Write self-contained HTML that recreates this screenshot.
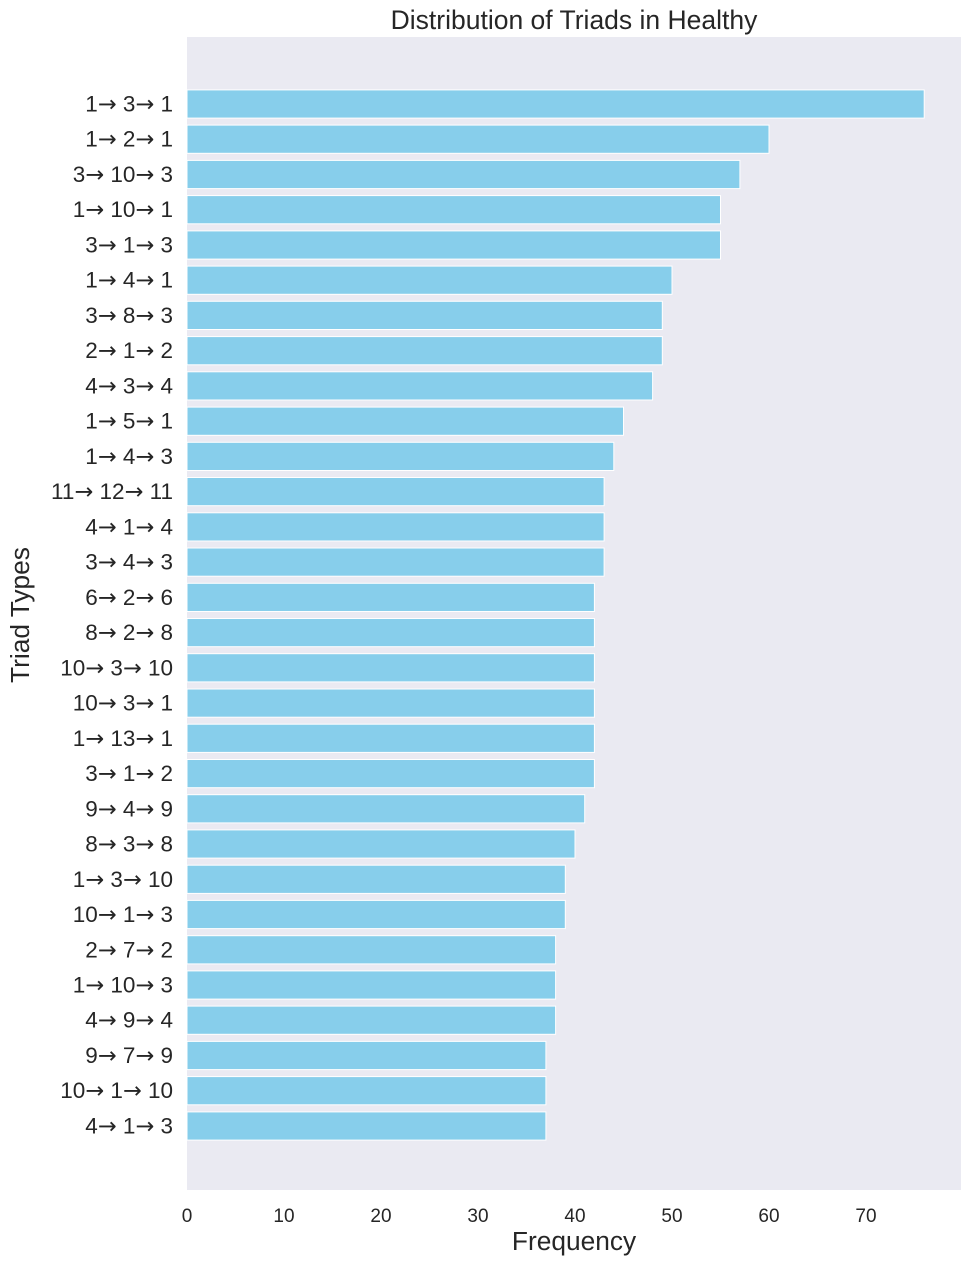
<!DOCTYPE html>
<html><head><meta charset="utf-8"><style>body{margin:0;background:#fff}svg{display:block}text{font-family:"Liberation Sans",sans-serif;fill:#262626}tspan.a{font-family:"DejaVu Sans",sans-serif}</style></head>
<body>
<svg width="971" height="1265" xmlns="http://www.w3.org/2000/svg">
<rect x="187" y="37" width="774" height="1153" fill="#eaeaf2"/>
<text x="574" y="29" font-size="26.5" text-anchor="middle">Distribution of Triads in Healthy</text>
<g fill="#87ceeb" stroke="#fff" stroke-width="1">
<rect x="187" y="89.9" width="737.2" height="28.2"/>
<rect x="187" y="125.1" width="582" height="28.2"/>
<rect x="187" y="160.4" width="552.9" height="28.2"/>
<rect x="187" y="195.6" width="533.5" height="28.2"/>
<rect x="187" y="230.9" width="533.5" height="28.2"/>
<rect x="187" y="266.1" width="485" height="28.2"/>
<rect x="187" y="301.3" width="475.3" height="28.2"/>
<rect x="187" y="336.6" width="475.3" height="28.2"/>
<rect x="187" y="371.8" width="465.6" height="28.2"/>
<rect x="187" y="407.1" width="436.5" height="28.2"/>
<rect x="187" y="442.3" width="426.8" height="28.2"/>
<rect x="187" y="477.5" width="417.1" height="28.2"/>
<rect x="187" y="512.8" width="417.1" height="28.2"/>
<rect x="187" y="548" width="417.1" height="28.2"/>
<rect x="187" y="583.3" width="407.4" height="28.2"/>
<rect x="187" y="618.5" width="407.4" height="28.2"/>
<rect x="187" y="653.7" width="407.4" height="28.2"/>
<rect x="187" y="689" width="407.4" height="28.2"/>
<rect x="187" y="724.2" width="407.4" height="28.2"/>
<rect x="187" y="759.5" width="407.4" height="28.2"/>
<rect x="187" y="794.7" width="397.7" height="28.2"/>
<rect x="187" y="829.9" width="388" height="28.2"/>
<rect x="187" y="865.2" width="378.3" height="28.2"/>
<rect x="187" y="900.4" width="378.3" height="28.2"/>
<rect x="187" y="935.7" width="368.6" height="28.2"/>
<rect x="187" y="970.9" width="368.6" height="28.2"/>
<rect x="187" y="1006.1" width="368.6" height="28.2"/>
<rect x="187" y="1041.4" width="358.9" height="28.2"/>
<rect x="187" y="1076.6" width="358.9" height="28.2"/>
<rect x="187" y="1111.9" width="358.9" height="28.2"/>
</g>
<g font-size="22.5" text-anchor="end">
<text x="173" y="111.5">1<tspan class="a">→</tspan> 3<tspan class="a">→</tspan> 1</text>
<text x="173" y="146.7">1<tspan class="a">→</tspan> 2<tspan class="a">→</tspan> 1</text>
<text x="173" y="182">3<tspan class="a">→</tspan> 10<tspan class="a">→</tspan> 3</text>
<text x="173" y="217.2">1<tspan class="a">→</tspan> 10<tspan class="a">→</tspan> 1</text>
<text x="173" y="252.5">3<tspan class="a">→</tspan> 1<tspan class="a">→</tspan> 3</text>
<text x="173" y="287.7">1<tspan class="a">→</tspan> 4<tspan class="a">→</tspan> 1</text>
<text x="173" y="322.9">3<tspan class="a">→</tspan> 8<tspan class="a">→</tspan> 3</text>
<text x="173" y="358.2">2<tspan class="a">→</tspan> 1<tspan class="a">→</tspan> 2</text>
<text x="173" y="393.4">4<tspan class="a">→</tspan> 3<tspan class="a">→</tspan> 4</text>
<text x="173" y="428.7">1<tspan class="a">→</tspan> 5<tspan class="a">→</tspan> 1</text>
<text x="173" y="463.9">1<tspan class="a">→</tspan> 4<tspan class="a">→</tspan> 3</text>
<text x="173" y="499.1">11<tspan class="a">→</tspan> 12<tspan class="a">→</tspan> 11</text>
<text x="173" y="534.4">4<tspan class="a">→</tspan> 1<tspan class="a">→</tspan> 4</text>
<text x="173" y="569.6">3<tspan class="a">→</tspan> 4<tspan class="a">→</tspan> 3</text>
<text x="173" y="604.9">6<tspan class="a">→</tspan> 2<tspan class="a">→</tspan> 6</text>
<text x="173" y="640.1">8<tspan class="a">→</tspan> 2<tspan class="a">→</tspan> 8</text>
<text x="173" y="675.3">10<tspan class="a">→</tspan> 3<tspan class="a">→</tspan> 10</text>
<text x="173" y="710.6">10<tspan class="a">→</tspan> 3<tspan class="a">→</tspan> 1</text>
<text x="173" y="745.8">1<tspan class="a">→</tspan> 13<tspan class="a">→</tspan> 1</text>
<text x="173" y="781.1">3<tspan class="a">→</tspan> 1<tspan class="a">→</tspan> 2</text>
<text x="173" y="816.3">9<tspan class="a">→</tspan> 4<tspan class="a">→</tspan> 9</text>
<text x="173" y="851.5">8<tspan class="a">→</tspan> 3<tspan class="a">→</tspan> 8</text>
<text x="173" y="886.8">1<tspan class="a">→</tspan> 3<tspan class="a">→</tspan> 10</text>
<text x="173" y="922">10<tspan class="a">→</tspan> 1<tspan class="a">→</tspan> 3</text>
<text x="173" y="957.3">2<tspan class="a">→</tspan> 7<tspan class="a">→</tspan> 2</text>
<text x="173" y="992.5">1<tspan class="a">→</tspan> 10<tspan class="a">→</tspan> 3</text>
<text x="173" y="1027.7">4<tspan class="a">→</tspan> 9<tspan class="a">→</tspan> 4</text>
<text x="173" y="1063">9<tspan class="a">→</tspan> 7<tspan class="a">→</tspan> 9</text>
<text x="173" y="1098.2">10<tspan class="a">→</tspan> 1<tspan class="a">→</tspan> 10</text>
<text x="173" y="1133.5">4<tspan class="a">→</tspan> 1<tspan class="a">→</tspan> 3</text>
</g>
<g font-size="19" text-anchor="middle">
<text x="187" y="1222">0</text><text x="284" y="1222">10</text><text x="381" y="1222">20</text><text x="478" y="1222">30</text><text x="575" y="1222">40</text><text x="672" y="1222">50</text><text x="769" y="1222">60</text><text x="866" y="1222">70</text>
</g>
<text x="574" y="1250" font-size="26.3" text-anchor="middle">Frequency</text>
<text transform="translate(29,615) rotate(-90)" font-size="26.3" text-anchor="middle">Triad Types</text>
</svg>
</body></html>
